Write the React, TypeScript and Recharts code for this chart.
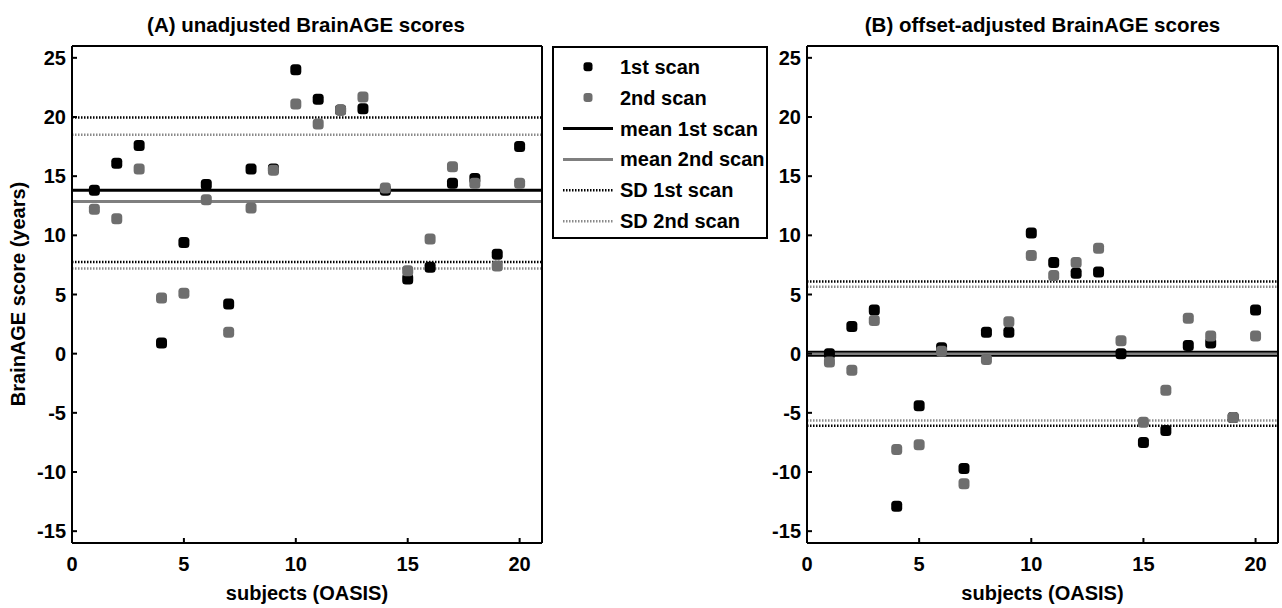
import React from 'react';
import { ScatterChart, Scatter, XAxis, YAxis, ReferenceLine } from 'recharts';

const FONT = '"Liberation Sans", Arial, Helvetica, sans-serif';
const BLACK = '#000000';
const GRAY = '#6e6e6e';
const GRAY_LINE = '#7f7f7f';
const GRAY_DOT = '#8a8a8a';

// ---- data ----
const subjects = [1, 2, 3, 4, 5, 6, 7, 8, 9, 10, 11, 12, 13, 14, 15, 16, 17, 18, 19, 20];

// (A) unadjusted BrainAGE scores
const scan1A = [13.8, 16.1, 17.6, 0.9, 9.4, 14.3, 4.2, 15.6, 15.6, 24.0, 21.5, 20.6, 20.7, 13.8, 6.3, 7.3, 14.4, 14.8, 8.4, 17.5];
const scan2A = [12.2, 11.4, 15.6, 4.7, 5.1, 13.0, 1.8, 12.3, 15.5, 21.1, 19.4, 20.6, 21.7, 14.0, 7.0, 9.7, 15.8, 14.4, 7.4, 14.4];
const meanA = [13.8, 12.85];
const sd1A = [19.95, 7.75];
const sd2A = [18.5, 7.2];

// (B) offset-adjusted BrainAGE scores
const scan1B = [0.0, 2.3, 3.7, -12.9, -4.4, 0.5, -9.7, 1.8, 1.8, 10.2, 7.7, 6.8, 6.9, 0.0, -7.5, -6.5, 0.7, 0.9, -5.4, 3.7];
const scan2B = [-0.7, -1.4, 2.8, -8.1, -7.7, 0.2, -11.0, -0.5, 2.7, 8.3, 6.6, 7.7, 8.9, 1.1, -5.8, -3.1, 3.0, 1.5, -5.4, 1.5];
const meanB = [0, 0];
const sd1B = [6.1, -6.1];
const sd2B = [5.65, -5.65];

const xTicks = [0, 5, 10, 15, 20];
const yTicks = [-15, -10, -5, 0, 5, 10, 15, 20, 25];
const xDomain = [0, 21];
const yDomain = [-16, 26];

const titles = ['(A) unadjusted BrainAGE scores', '(B) offset-adjusted BrainAGE scores'];
const xLabel = 'subjects (OASIS)';
const yLabel = 'BrainAGE score (years)';
const legendLabels = ['1st scan', '2nd scan', 'mean 1st scan', 'mean 2nd scan', 'SD 1st scan', 'SD 2nd scan'];

const makeMarker = (color: string) => (props: any) => {
  const { cx, cy } = props;
  if (cx == null || cy == null) return <g />;
  return <rect x={cx - 5.5} y={cy - 5.5} width={11} height={11} rx={3.5} ry={3.5} fill={color} />;
};

const tickStyle = { fill: '#000', fontSize: 20, fontWeight: 700, fontFamily: FONT };
const axisLineStyle = { stroke: '#000', strokeWidth: 2 };
const tickLineStyle = { stroke: '#000', strokeWidth: 2 };

type PanelProps = {
  left: number;
  width: number;
  yAxisWidth: number;
  marginRight: number;
  s1: number[];
  s2: number[];
  mean: number[];
  sd1: number[];
  sd2: number[];
  mean1Width: number;
  mean2Width: number;
};

function Panel(p: PanelProps) {
  const d1 = subjects.map((x, i) => ({ x, y: p.s1[i] }));
  const d2 = subjects.map((x, i) => ({ x, y: p.s2[i] }));
  const dotted = '1.5 1.5';
  return (
    <div style={{ position: 'absolute', left: p.left, top: 0 }}>
      <ScatterChart width={p.width} height={608} margin={{ top: 45, right: p.marginRight, bottom: 5, left: 0 }}>
        <XAxis
          xAxisId="b"
          dataKey="x"
          type="number"
          orientation="bottom"
          domain={xDomain}
          ticks={xTicks}
          interval={0}
          allowDataOverflow
          height={60}
          tickSize={-5}
          tickMargin={19}
          axisLine={axisLineStyle}
          tickLine={tickLineStyle}
          tick={tickStyle}
        />
        <XAxis
          xAxisId="t"
          type="number"
          orientation="top"
          domain={xDomain}
          ticks={xTicks}
          interval={0}
          allowDataOverflow
          height={1}
          tickSize={-5}
          axisLine={axisLineStyle}
          tickLine={tickLineStyle}
          tick={false}
        />
        <YAxis
          yAxisId="l"
          dataKey="y"
          type="number"
          orientation="left"
          domain={yDomain}
          ticks={yTicks}
          interval={0}
          allowDataOverflow
          width={p.yAxisWidth}
          tickSize={-5}
          tickMargin={11}
          axisLine={axisLineStyle}
          tickLine={tickLineStyle}
          tick={tickStyle}
        />
        <YAxis
          yAxisId="r"
          type="number"
          orientation="right"
          domain={yDomain}
          ticks={yTicks}
          interval={0}
          allowDataOverflow
          width={1}
          tickSize={-5}
          axisLine={axisLineStyle}
          tickLine={tickLineStyle}
          tick={false}
        />
        <ReferenceLine xAxisId="b" yAxisId="l" y={p.sd1[0]} stroke={BLACK} strokeWidth={2.5} strokeDasharray={dotted} />
        <ReferenceLine xAxisId="b" yAxisId="l" y={p.sd1[1]} stroke={BLACK} strokeWidth={2.5} strokeDasharray={dotted} />
        <ReferenceLine xAxisId="b" yAxisId="l" y={p.sd2[0]} stroke={GRAY_DOT} strokeWidth={2.5} strokeDasharray={dotted} />
        <ReferenceLine xAxisId="b" yAxisId="l" y={p.sd2[1]} stroke={GRAY_DOT} strokeWidth={2.5} strokeDasharray={dotted} />
        <ReferenceLine xAxisId="b" yAxisId="l" y={p.mean[0]} stroke={BLACK} strokeWidth={p.mean1Width} />
        <ReferenceLine xAxisId="b" yAxisId="l" y={p.mean[1]} stroke={GRAY_LINE} strokeWidth={p.mean2Width} />
        <Scatter xAxisId="b" yAxisId="l" data={d1} fill={BLACK} shape={makeMarker(BLACK)} isAnimationActive={false} />
        <Scatter xAxisId="b" yAxisId="l" data={d2} fill={GRAY} shape={makeMarker(GRAY)} isAnimationActive={false} />
      </ScatterChart>
    </div>
  );
}

function Legend() {
  const rowY = (i: number) => 20.7 + i * 30.9;
  return (
    <svg width={216} height={193} style={{ position: 'absolute', left: 552, top: 46 }}>
      <rect x={1} y={1} width={214} height={191} fill="#fff" stroke="#000" strokeWidth={2} />
      <rect x={31.5} y={rowY(0) - 4.5} width={9} height={9} rx={3} fill={BLACK} />
      <rect x={31.5} y={rowY(1) - 4.5} width={9} height={9} rx={3} fill={GRAY} />
      <line x1={11} x2={61} y1={rowY(2)} y2={rowY(2)} stroke={BLACK} strokeWidth={3} />
      <line x1={11} x2={61} y1={rowY(3)} y2={rowY(3)} stroke={GRAY_LINE} strokeWidth={3} />
      <line x1={11} x2={61} y1={rowY(4)} y2={rowY(4)} stroke={BLACK} strokeWidth={2.5} strokeDasharray="1.5 1.5" />
      <line x1={11} x2={61} y1={rowY(5)} y2={rowY(5)} stroke={GRAY_DOT} strokeWidth={2.5} strokeDasharray="1.5 1.5" />
      {legendLabels.map((t, i) => (
        <text key={t} x={68} y={rowY(i)} dy="0.35em" fontFamily={FONT} fontSize={20} fontWeight={700} fill="#000">
          {t}
        </text>
      ))}
    </svg>
  );
}

function Labels() {
  const txt = { fontFamily: FONT, fontWeight: 700, fill: '#000' } as const;
  return (
    <svg width={1282} height={608} style={{ position: 'absolute', left: 0, top: 0, pointerEvents: 'none' }}>
      <text x={306} y={32} textAnchor="middle" fontSize={20.5} {...txt}>{titles[0]}</text>
      <text x={1042.5} y={32} textAnchor="middle" fontSize={20.5} {...txt}>{titles[1]}</text>
      <text x={307} y={600} textAnchor="middle" fontSize={20} {...txt}>{xLabel}</text>
      <text x={1042.5} y={600} textAnchor="middle" fontSize={20} {...txt}>{xLabel}</text>
      <text x={17.5} y={294} dy="0.35em" textAnchor="middle" fontSize={20} transform="rotate(-90 17.5 294)" {...txt}>
        {yLabel}
      </text>
    </svg>
  );
}

export default function App() {
  return (
    <div style={{ position: 'absolute', left: 0, top: 0, width: 1282, height: 608, background: '#fff', overflow: 'hidden' }}>
      <Panel
        left={0}
        width={560}
        yAxisWidth={72}
        marginRight={17}
        s1={scan1A}
        s2={scan2A}
        mean={meanA}
        sd1={sd1A}
        sd2={sd2A}
        mean1Width={3}
        mean2Width={3}
      />
      <Panel
        left={740}
        width={542}
        yAxisWidth={67}
        marginRight={3}
        s1={scan1B}
        s2={scan2B}
        mean={meanB}
        sd1={sd1B}
        sd2={sd2B}
        mean1Width={6}
        mean2Width={2.5}
      />
      <Legend />
      <Labels />
    </div>
  );
}
